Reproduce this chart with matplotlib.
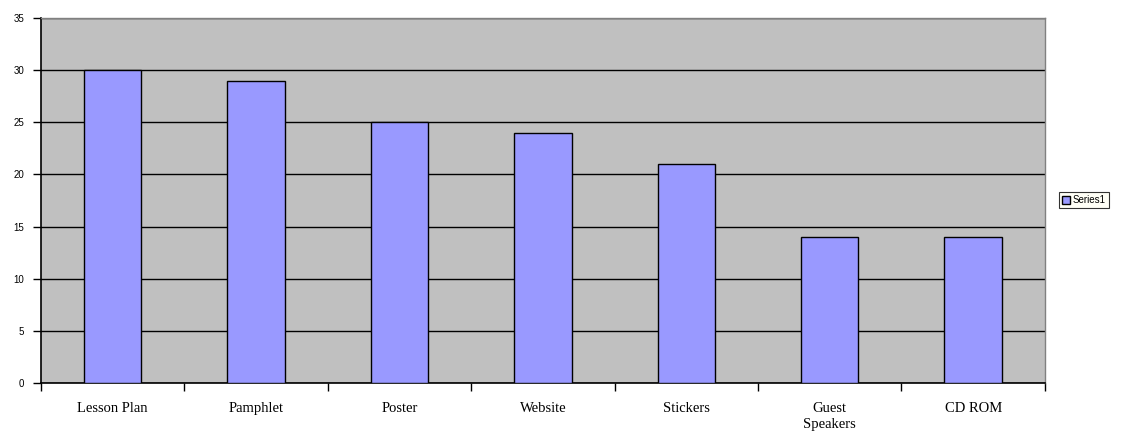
import numpy as np
import matplotlib
matplotlib.use("Agg")
import matplotlib.pyplot as plt

categorias = ["Lesson Plan", "Pamphlet", "Poster", "Website", "Stickers", "Guest\nSpeakers", "CD ROM"]
valores = [30, 29, 25, 24, 21, 14, 14]
yticks = [0, 5, 10, 15, 20, 25, 30, 35]

fig = plt.figure(figsize=(11.33, 4.42), dpi=100)
ax = fig.add_axes([0.0362, 0.1335, 0.886, 0.8255])
ax.set_facecolor("#C0C0C0")

x = np.arange(len(categorias))
ax.bar(x, valores, width=0.4, color="#9999FF", edgecolor="black", linewidth=1,
       label="Series1", zorder=3)

ax.set_xlim(-0.5, len(categorias) - 0.5)
ax.set_ylim(0, 35)
ax.set_yticks(yticks)
ax.set_yticklabels([str(v) for v in yticks], fontsize=7, family="Liberation Sans")
ax.yaxis.grid(True, color="black", linewidth=1, zorder=1)
ax.set_axisbelow(True)

# ticks nas divisoes das categorias, rotulos no centro
ax.set_xticks(np.arange(-0.5, len(categorias), 1))
ax.set_xticklabels([])
ax.set_xticks(x, minor=True)
ax.set_xticklabels(categorias, minor=True, fontsize=10.5, family="Liberation Serif",
                   linespacing=1.25, va="top")
ax.tick_params(axis="x", which="minor", length=0, pad=14)
ax.tick_params(axis="x", which="major", length=6, width=1, direction="out")
ax.tick_params(axis="y", length=6, width=1, direction="out", pad=6)

for lado in ["left", "bottom"]:
    ax.spines[lado].set_color("black")
    ax.spines[lado].set_linewidth(1.2)
for lado in ["right", "top"]:
    ax.spines[lado].set_color("#808080")
    ax.spines[lado].set_linewidth(1)

leg = fig.legend(loc="center left", bbox_to_anchor=(0.9347, 0.5475),
                 prop={"family": "Liberation Sans", "size": 7},
                 frameon=True, fancybox=False, handlelength=0.8, handleheight=0.9,
                 handletextpad=0.3, borderpad=0.3, borderaxespad=0)
leg.get_frame().set_edgecolor("black")
leg.get_frame().set_facecolor("#FFFFF4")
leg.get_frame().set_linewidth(0.8)

fig.savefig("out.png", dpi=100)
